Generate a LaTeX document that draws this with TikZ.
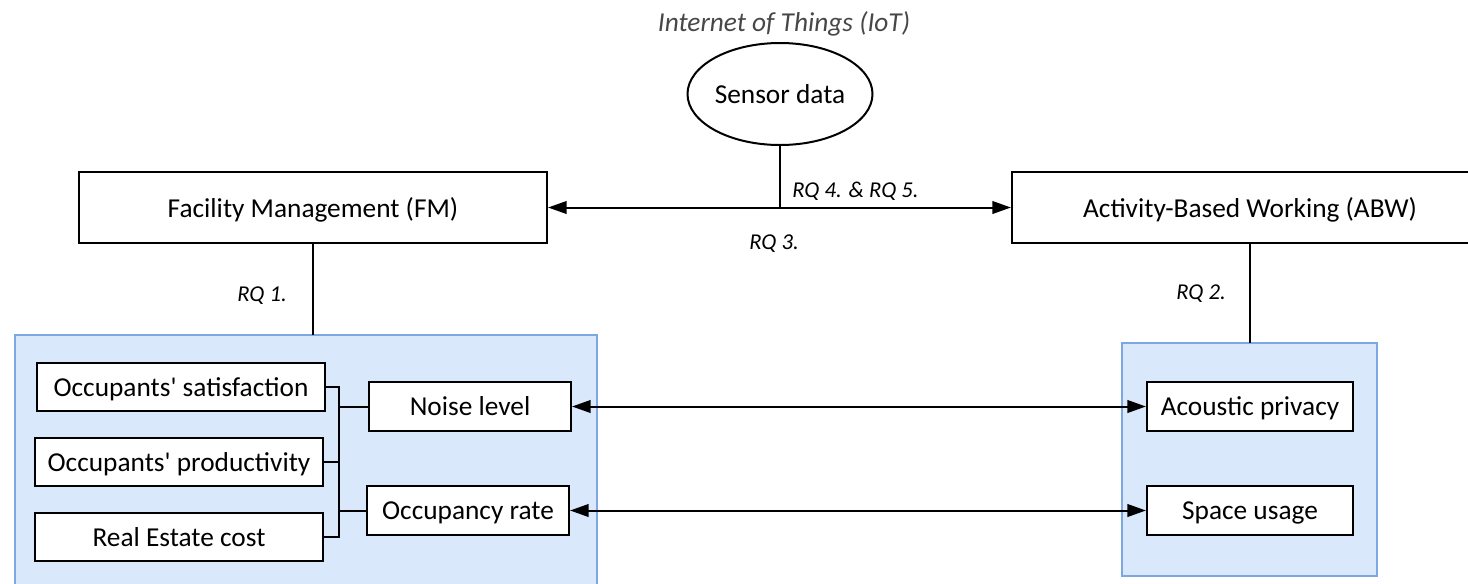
\documentclass[tikz,border=0pt]{standalone}
\usepackage{fontspec}
\setmainfont{Carlito}
\usetikzlibrary{shapes.geometric,arrows.meta}
\definecolor{bluefill}{HTML}{DAE8FC}
\definecolor{blueline}{HTML}{7EA6E0}
\tikzset{
  txt/.style={font=\fontsize{20.5}{24}\selectfont},
  box/.style={txt,draw=black,line width=1.6pt,fill=white,inner sep=0pt,text depth=0pt},
  group/.style={draw=blueline,line width=1.3pt,fill=bluefill},
  conn/.style={line width=1.5pt},
  biarrow/.style={line width=1.5pt,{Triangle[length=14pt,width=9.5pt]}-{Triangle[length=14pt,width=9.5pt]}},
  rq/.style={font=\fontsize{17}{20}\selectfont\itshape,inner sep=0pt}
}
\begin{document}
\begin{tikzpicture}[x=0.75pt,y=-0.75pt]
\useasboundingbox (0,0) rectangle (1468,583);
% groups
\path[group] (15,335) rectangle (597,592);
\path[group] (1122,343) rectangle (1377,576);
% title
\node[txt,font=\fontsize{20.5}{24}\selectfont\itshape,text=black!72,inner sep=0pt] (iot) at (784,24) {Internet of Things (IoT)};
% sensor
\node[txt,draw,ellipse,line width=1.5pt,minimum width=185*0.75pt,minimum height=102*0.75pt,inner sep=0pt,text depth=0pt] (sensor) at (780,94) {Sensor data};
% main boxes
\node[box,minimum width=468*0.75pt,minimum height=71*0.75pt] (fm) at (313,207.5) {Facility Management (FM)};
\node[box,minimum width=476*0.75pt,minimum height=71*0.75pt] (abw) at (1250,207.5) {Activity-Based Working (ABW)};
% inner boxes
\node[box,minimum width=288*0.75pt,minimum height=48*0.75pt] (sat) at (181,387) {Occupants\textquotesingle{} satisfaction};
\node[box,minimum width=288*0.75pt,minimum height=48*0.75pt] (prod) at (179,462) {Occupants\textquotesingle{} productivity};
\node[box,minimum width=288*0.75pt,minimum height=48*0.75pt] (cost) at (179,537) {Real Estate cost};
\node[box,minimum width=202*0.75pt,minimum height=49*0.75pt] (noise) at (470,406.5) {Noise level};
\node[box,minimum width=202*0.75pt,minimum height=49*0.75pt] (occ) at (468,510.5) {Occupancy rate};
\node[box,minimum width=206*0.75pt,minimum height=49*0.75pt] (acou) at (1250,406.5) {Acoustic privacy};
\node[box,minimum width=206*0.75pt,minimum height=49*0.75pt] (space) at (1250,510.5) {Space usage};
% coordinates
\coordinate (hub) at (780,207.5);
\coordinate (fmg) at (313,335);
\coordinate (abwg) at (1250,343);
\coordinate (bt) at (339,387);
\coordinate (bb) at (339,537);
% connectors
\draw[conn] (sensor.south) -- (hub);
\draw[biarrow] (fm.east) -- (abw.west);
\draw[conn] (fm.south) -- (fmg);
\draw[conn] (abw.south) -- (abwg);
\draw[conn] (sat.east) -- (bt) -- (bb) -- (cost.east);
\draw[conn] (prod.east) -- (prod.east -| bt);
\draw[conn] (noise.west -| bt) -- (noise.west);
\draw[conn] (occ.west -| bt) -- (occ.west);
\draw[biarrow] (noise.east) -- (acou.west);
\draw[biarrow] (occ.east) -- (space.west);
% labels
\node[rq] (rq45) at (855.5,191) {RQ 4. \& RQ 5.};
\node[rq] (rq3) at (774,244) {RQ 3.};
\node[rq] (rq1) at (262,296) {RQ 1.};
\node[rq] (rq2) at (1201,294) {RQ 2.};
\end{tikzpicture}
\end{document}
